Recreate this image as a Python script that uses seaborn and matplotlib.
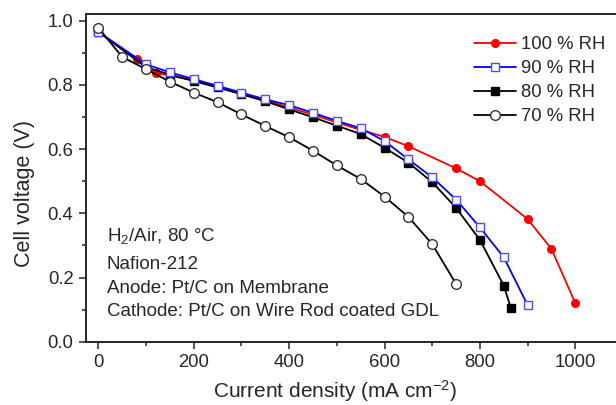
import pandas as pd
import matplotlib
matplotlib.use("Agg")
import matplotlib.pyplot as plt
import seaborn as sns
from matplotlib.ticker import MultipleLocator

# polarization curves (current density mA/cm2, cell voltage V)
x_100 = [0, 80, 120, 200, 250, 300, 350, 400, 450, 500, 550, 600, 650, 750, 800, 900, 950, 1000]
v_100 = [0.965, 0.880, 0.838, 0.814, 0.794, 0.773, 0.752, 0.730, 0.707, 0.683, 0.660, 0.638,
         0.609, 0.540, 0.500, 0.382, 0.289, 0.120]

x_90 = [0, 100, 150, 200, 250, 300, 350, 400, 450, 500, 550, 600, 650, 700, 750, 800, 850, 900]
v_90 = [0.965, 0.864, 0.839, 0.818, 0.797, 0.776, 0.755, 0.737, 0.713, 0.688, 0.665, 0.625,
        0.568, 0.512, 0.443, 0.356, 0.263, 0.114]

x_80 = [0, 100, 150, 200, 250, 300, 350, 400, 450, 500, 550, 600, 650, 700, 750, 800, 850, 865]
v_80 = [0.965, 0.855, 0.832, 0.812, 0.792, 0.771, 0.749, 0.724, 0.699, 0.673, 0.647, 0.604,
        0.558, 0.497, 0.417, 0.317, 0.175, 0.104]

x_70 = [0, 50, 100, 150, 200, 250, 300, 350, 400, 450, 500, 550, 600, 650, 700, 750]
v_70 = [0.978, 0.887, 0.849, 0.810, 0.776, 0.746, 0.708, 0.672, 0.637, 0.595, 0.549, 0.507,
        0.452, 0.389, 0.304, 0.180]

notes = [r"H$_2$/Air, 80 °C", "Nafion-212", "Anode: Pt/C on Membrane",
         "Cathode: Pt/C on Wire Rod coated GDL"]

sns.set_style("ticks")
plt.rcParams["font.family"] = ["Liberation Sans", "DejaVu Sans"]
plt.rcParams["mathtext.fontset"] = "custom"
plt.rcParams["mathtext.rm"] = "Liberation Sans"
plt.rcParams["mathtext.it"] = "Liberation Sans:italic"

fig = plt.figure(figsize=(6.16, 4.05), dpi=100)
# the original plot is cut off on the right, so the axes run past the figure edge
ax = fig.add_axes([86 / 616, 1 - 341.7 / 405, 537 / 616, 327.4 / 405])

series = [
    ("100 % RH", x_100, v_100, dict(color="#ff0000", marker="o", markersize=5.5,
                                    markerfacecolor="#ff0000", markeredgecolor="#ff0000"), 2),
    ("90 % RH", x_90, v_90, dict(color="#0000ff", marker="s", markersize=5.5,
                                 markerfacecolor="white", markeredgecolor="#4d4dff"), 4),
    ("80 % RH", x_80, v_80, dict(color="black", marker="s", markersize=5.5,
                                 markerfacecolor="black", markeredgecolor="black"), 3),
    ("70 % RH", x_70, v_70, dict(color="black", marker="o", markersize=7,
                                 markerfacecolor="white", markeredgecolor="#333333"), 5),
]

for label, xs, vs, style, z in series:
    df = pd.DataFrame({"current": xs, "voltage": vs})
    sns.lineplot(data=df, x="current", y="voltage", ax=ax, label=label, linewidth=1.3,
                 markeredgewidth=1.0, zorder=z, sort=False, **style)

ax.set_xlim(-26, 1100)
ax.set_ylim(0, 1.02)
ax.xaxis.set_major_locator(MultipleLocator(200))
ax.xaxis.set_minor_locator(MultipleLocator(100))
ax.yaxis.set_major_locator(MultipleLocator(0.2))
ax.yaxis.set_minor_locator(MultipleLocator(0.1))
ax.tick_params(which="major", direction="out", length=5, width=1.1, labelsize=13.3, pad=4)
ax.tick_params(which="minor", direction="out", length=3, width=1.1)
for sp in ax.spines.values():
    sp.set_linewidth(1.4)

ax.set_xlabel(r"Current density (mA cm$^{-2}$)", fontsize=15, labelpad=5)
ax.set_ylabel("Cell voltage (V)", fontsize=15.5, labelpad=9)
ax.xaxis.label.set_x(0.464)
ax.yaxis.label.set_y(0.453)

for txt, yb in zip(notes, [0.3085, 0.2211, 0.1478, 0.0785]):
    ax.text(0.039, yb, txt, transform=ax.transAxes, fontsize=13.5, va="baseline", ha="left")

ax.legend(loc="upper left", bbox_to_anchor=(474 / 616, 1 - 36 / 405),
          bbox_transform=fig.transFigure, frameon=False, fontsize=13.3,
          handlelength=2.3, handletextpad=0.27, labelspacing=0.38, borderpad=0, borderaxespad=0)

fig.savefig("out.png", dpi=100)
